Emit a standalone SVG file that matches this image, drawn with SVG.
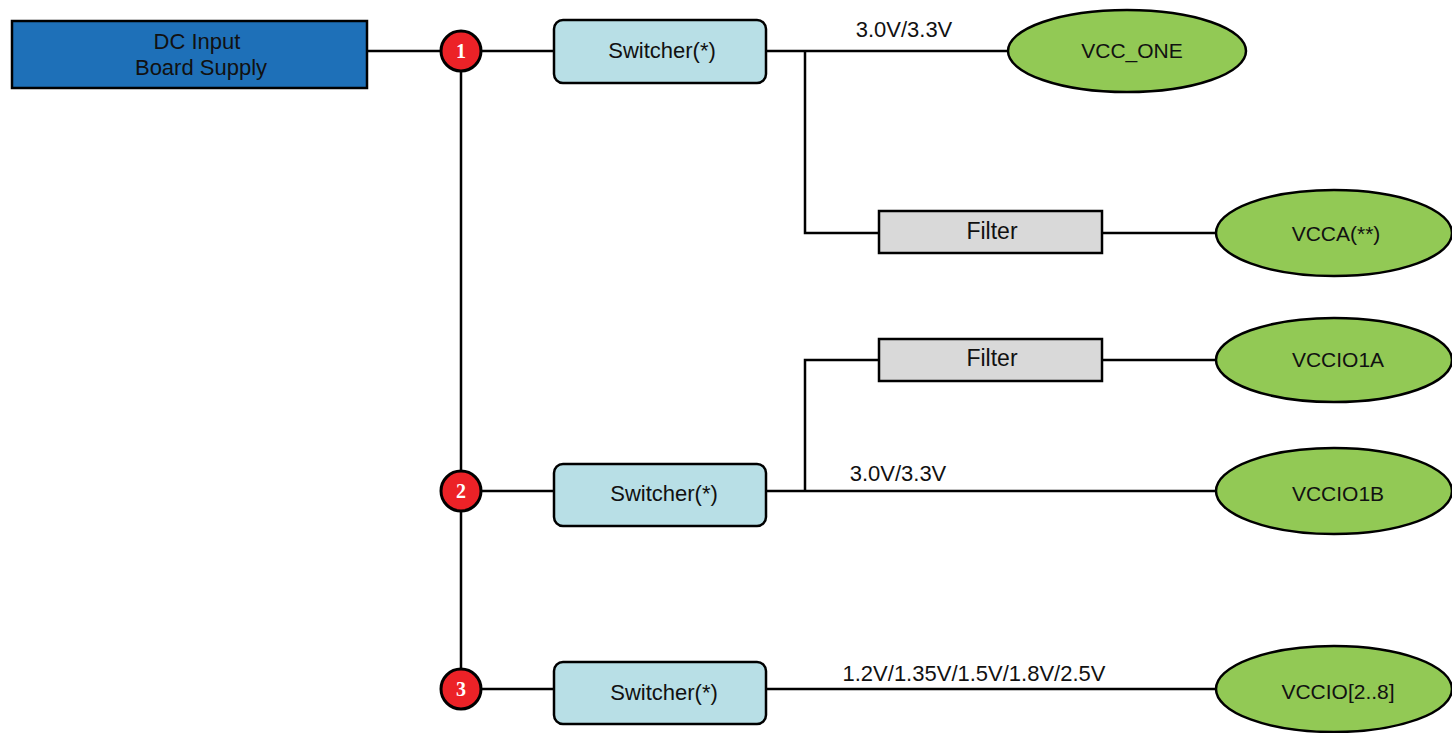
<svg xmlns="http://www.w3.org/2000/svg" width="1452" height="733" viewBox="0 0 1452 733">
<style>
text{font-family:"Liberation Sans",Arial,sans-serif;font-size:22px;fill:#111;text-anchor:middle;dominant-baseline:central}
.ln{stroke:#000;stroke-width:2.5;fill:none}
.sw{fill:#b8dfe6;stroke:#000;stroke-width:2.5}
.fl{fill:#d9d9d9;stroke:#000;stroke-width:2.5}
.el{fill:#92c955;stroke:#000;stroke-width:2.5}
.bd{fill:#ec2227;stroke:#000;stroke-width:3}
.num{font-family:"Liberation Serif",serif;font-weight:bold;fill:#fff;font-size:20px}
.ov{font-size:21px}
.fi{font-size:23px}
</style>
<rect width="1452" height="733" fill="#fff"/>
<g id="connectors">
<path class="ln" d="M367 51H461M461 51V689M461 51H554M461 491H554M461 689H554"/>
<path class="ln" d="M766 51H1008M805 51V233H879M1102 233H1216"/>
<path class="ln" d="M766 491H1216M805 491V360H879M1102 360H1216"/>
<path class="ln" d="M766 689H1216"/>
</g>
<g id="labels">
<text x="904" y="29">3.0V/3.3V</text>
<text x="898" y="473">3.0V/3.3V</text>
<text x="974" y="673">1.2V/1.35V/1.5V/1.8V/2.5V</text>
</g>
<g id="dc"><rect x="12" y="21" width="355" height="67" fill="#1e70b8" stroke="#000" stroke-width="2.5"/><text x="197" y="41">DC Input</text><text x="201" y="67">Board Supply</text></g>
<g id="b1"><circle class="bd" cx="461" cy="51" r="20"/><text class="num" x="461" y="51">1</text></g>
<g id="b2"><circle class="bd" cx="461" cy="491" r="20"/><text class="num" x="461" y="491">2</text></g>
<g id="b3"><circle class="bd" cx="461" cy="689" r="20"/><text class="num" x="461" y="689">3</text></g>
<g id="sw1"><rect class="sw" x="554" y="20" width="212" height="63" rx="9"/><text x="662" y="50">Switcher(*)</text></g>
<g id="sw2"><rect class="sw" x="554" y="464" width="212" height="62" rx="9"/><text x="664" y="493">Switcher(*)</text></g>
<g id="sw3"><rect class="sw" x="554" y="662" width="212" height="62" rx="9"/><text x="664" y="692">Switcher(*)</text></g>
<g id="f1"><rect class="fl" x="879" y="211" width="223" height="42"/><text class="fi" x="992" y="231">Filter</text></g>
<g id="f2"><rect class="fl" x="879" y="339" width="223" height="42"/><text class="fi" x="992" y="358">Filter</text></g>
<g id="vccone"><ellipse class="el" cx="1127" cy="51" rx="119" ry="41"/><text class="ov" x="1132" y="50">VCC_ONE</text></g>
<g id="vcca"><ellipse class="el" cx="1334" cy="233" rx="118" ry="43"/><text class="ov" x="1336" y="233">VCCA(**)</text></g>
<g id="vccio1a"><ellipse class="el" cx="1334" cy="360" rx="118" ry="42"/><text class="ov" x="1338" y="359">VCCIO1A</text></g>
<g id="vccio1b"><ellipse class="el" cx="1334" cy="491" rx="118" ry="43"/><text class="ov" x="1338" y="493">VCCIO1B</text></g>
<g id="vccio28"><ellipse class="el" cx="1334" cy="689" rx="118" ry="43"/><text class="ov" x="1338" y="691">VCCIO[2..8]</text></g>
</svg>
